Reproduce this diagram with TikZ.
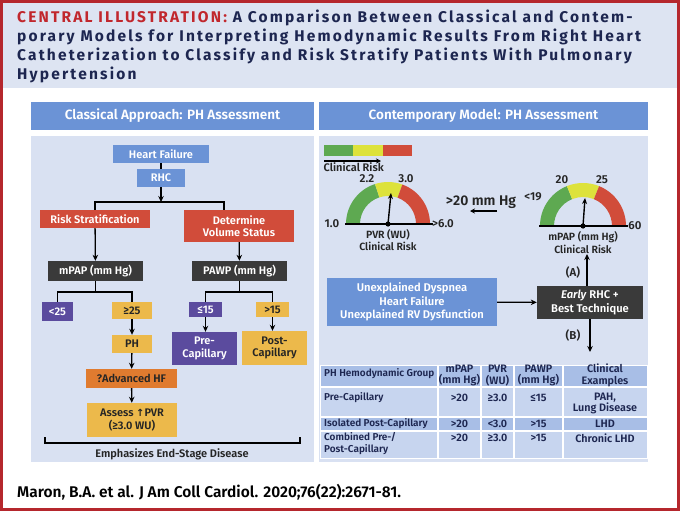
\documentclass[tikz,border=0pt]{standalone}
\usepackage{fontspec}
\setmainfont{Fira Sans}[BoldFont={Fira Sans SemiBold}]
\newfontfamily\titlefont{Fira Sans Bold}[LetterSpace=14]
\usetikzlibrary{arrows.meta}
\definecolor{frameRed}{HTML}{B5272D}
\definecolor{titleRed}{HTML}{C1272D}
\definecolor{navy}{HTML}{1D2650}
\definecolor{band}{HTML}{DDE4F2}
\definecolor{hdrBlue}{HTML}{6B93D6}
\definecolor{panel}{HTML}{D9E1F2}
\definecolor{riskRed}{HTML}{D14C3A}
\definecolor{darkBox}{HTML}{3A3A3A}
\definecolor{purp}{HTML}{5B4B9E}
\definecolor{yel}{HTML}{ECB94B}
\definecolor{orng}{HTML}{E07B2F}
\definecolor{gGreen}{HTML}{5EA951}
\definecolor{gYel}{HTML}{DDE23B}
\definecolor{gRed}{HTML}{D14C3A}
\definecolor{tHead}{HTML}{A8BEE6}
\definecolor{tLight}{HTML}{C7D5EF}
\definecolor{txt}{HTML}{252525}
\tikzset{
  fbox/.style={rectangle, inner sep=0pt, align=center, font=\bfseries\fontsize{11}{12.5}\selectfont},
  bluebox/.style={fbox, fill=hdrBlue, text=white},
  redbox/.style={fbox, fill=riskRed, text=white},
  darkbox/.style={fbox, fill=darkBox, text=white},
  purpbox/.style={fbox, fill=purp, text=white},
  yelbox/.style={fbox, fill=yel, text=txt},
  orngbox/.style={fbox, fill=orng, text=txt},
  ln/.style={line width=1.3pt, draw=black},
  arr/.style={ln, -{Stealth[length=6pt,width=5.5pt]}},
  titletxt/.style={anchor=base west, inner sep=0pt, text=navy, font=\titlefont\fontsize{15.5}{19}\selectfont},
  hdrtxt/.style={text=white, font=\bfseries\fontsize{13.5}{15}\selectfont},
  lbl/.style={inner sep=0pt, text=txt, font=\bfseries\fontsize{11.5}{13}\selectfont},
  slbl/.style={inner sep=0pt, text=txt, align=center, font=\bfseries\fontsize{10.5}{12.5}\selectfont},
  tcell/.style={inner sep=0pt, text=navy, align=center, font=\bfseries\fontsize{10.8}{11.5}\selectfont},
  tfirst/.style={tcell, anchor=west, align=left, font=\bfseries\fontsize{10}{11.5}\selectfont},
}
\begin{document}
\begin{tikzpicture}[x=1pt,y=-1pt]
\useasboundingbox (0,0) rectangle (680,511);
\fill[white] (0,0) rectangle (680,511);
% title band
\fill[band] (2,2) rectangle (678,87.5);
\node[titletxt] (t1) at (17,22.7) {\textcolor{titleRed}{CENTRAL ILLUSTRATION:} A Comparison Between Classical and Contem-};
\node[titletxt] (t2) at (17,41.6) {porary Models for Interpreting Hemodynamic Results From Right Heart};
\node[titletxt] (t3) at (17,60.5) {Catheterization to Classify and Risk Stratify Patients With Pulmonary};
\node[titletxt] (t4) at (17,79.4) {Hypertension};
% headers and panels
\fill[hdrBlue] (31,102) rectangle (314,130);
\fill[hdrBlue] (319,102) rectangle (648,130);
\node[hdrtxt] (h1) at (172.5,116) {Classical Approach: PH Assessment};
\node[hdrtxt] (h2) at (483.5,116) {Contemporary Model: PH Assessment};
\fill[panel] (31,136) rectangle (314,462);
\fill[panel] (319,136) rectangle (648,462);
% ---------- left panel ----------
\node[bluebox, minimum width=96pt, minimum height=18pt] (hf) at (161,154) {Heart Failure};
\node[bluebox, minimum width=48pt, minimum height=18pt] (rhc) at (161,178) {RHC};
\node[redbox, minimum width=110pt, minimum height=18pt] (risk) at (95,219) {Risk Stratification};
\node[redbox, minimum width=110pt, minimum height=32pt] (det) at (239,226) {Determine\\Volume Status};
\node[darkbox, minimum width=95pt, minimum height=20pt] (mpap) at (95.5,271) {mPAP (mm Hg)};
\node[darkbox, minimum width=95pt, minimum height=20pt] (pawp) at (239.5,271) {PAWP (mm Hg)};
\node[purpbox, minimum width=31pt, minimum height=19pt] (lt25) at (57.5,311.5) {<25};
\node[yelbox, minimum width=40pt, minimum height=17pt] (ge25) at (132,310.5) {≥25};
\node[purpbox, minimum width=33pt, minimum height=15pt] (le15) at (205.5,309.5) {≤15};
\node[yelbox, minimum width=33pt, minimum height=15pt] (gt15) at (272.5,309.5) {>15};
\node[yelbox, minimum width=40pt, minimum height=18pt] (ph) at (132,344) {PH};
\node[orngbox, minimum width=91pt, minimum height=19pt] (adv) at (131.5,378.5) {?Advanced HF};
\node[yelbox, minimum width=90pt, minimum height=34pt] (assess) at (132,420) {Assess \raisebox{0.5pt}{\fontspec{DejaVu Sans}[Scale=0.9]↑}PVR\\(≥3.0 WU)};
\node[purpbox, minimum width=65pt, minimum height=33pt] (pre) at (204.5,348.5) {Pre-\\Capillary};
\node[yelbox, minimum width=65pt, minimum height=34pt] (post) at (274.5,348) {Post-\\Capillary};
\coordinate (split) at (161,202);
\coordinate (sR) at (224,202);
\coordinate (m1) at (95.5,292);
\coordinate (p1) at (239.5,292);
\draw[ln] (hf) -- (rhc);
\draw[arr] (rhc) -- (split);
\draw[ln] (risk.north) |- (sR) -- (sR |- det.north);
\draw[arr] (risk) -- (mpap);
\draw[arr] (det) -- (pawp);
\draw[ln] (mpap) -- (m1);
\draw[ln] (lt25.north) |- (m1) -| (ge25.north);
\draw[ln] (pawp) -- (p1);
\draw[ln] (le15.north) |- (p1) -| (gt15.north);
\draw[arr] (ge25) -- (ph);
\draw[arr] (ph) -- (adv);
\draw[arr] (adv) -- (assess);
\draw[arr] (le15.south) -- (le15.south |- pre.north);
\draw[arr] (gt15.south) -- (gt15.south |- post.north);
\coordinate (bl) at (45,437);
\coordinate (br) at (300,437);
\draw[line width=1.2pt] (bl) -- ++(0,6) -| (br);
\node[lbl, font=\bfseries\fontsize{11}{13}\selectfont] (emph) at (172,454) {Emphasizes End-Stage Disease};
% ---------- right panel ----------
\fill[gGreen] (324,145) rectangle (353,156);
\fill[gYel] (353,145) rectangle (383,156);
\fill[gRed] (383,145) rectangle (412,156);
\coordinate (cr1) at (324,161);
\coordinate (cr2) at (381,161);
\draw[line width=1.2pt, -{Stealth[length=5pt,width=5pt]}] (cr1) -- (cr2);
\node[lbl, anchor=base west, text depth=0pt, font=\bfseries\fontsize{11}{13}\selectfont] (crisk) at (323.5,171) {Clinical Risk};
% gauge 1
\begin{scope}[shift={(388,224)}]
\fill[gGreen] (180:42) arc[start angle=180,end angle=252,radius=42] -- (252:28) arc[start angle=252,end angle=180,radius=28] -- cycle;
\fill[gYel] (252:42) arc[start angle=252,end angle=290,radius=42] -- (290:28) arc[start angle=290,end angle=252,radius=28] -- cycle;
\fill[gRed] (290:42) arc[start angle=290,end angle=360,radius=42] -- (360:28) arc[start angle=360,end angle=290,radius=28] -- cycle;
\coordinate (g1c) at (0,0);
\coordinate (g1t) at (3,-31);
\draw[line width=1.3pt] (-43,0) -- (45,0);
\draw[line width=1.4pt, -{Stealth[length=6pt,width=5pt]}] (g1c) -- (g1t);
\fill (g1c) circle (2.6);
\end{scope}
\node[lbl] (g1a) at (332,224) {1.0};
\node[lbl] (g1b) at (443,224) {>6.0};
\node[lbl, anchor=base] (g1d) at (367,182) {2.2};
\node[lbl, anchor=base] (g1e) at (406,182) {3.0};
\node[slbl] (g1f) at (388,240) {PVR (WU)\\Clinical Risk};
\node[lbl, font=\bfseries\fontsize{14}{16}\selectfont] (mm20) at (481,202) {>20 mm Hg};
\coordinate (ma1) at (497,211);
\coordinate (ma2) at (470,211);
\draw[line width=1.2pt, -{Stealth[length=5pt,width=5pt]}] (ma1) -- (ma2);
% gauge 2
\begin{scope}[shift={(583,226)}]
\fill[gGreen] (180:43) arc[start angle=180,end angle=248,radius=43] -- (248:29) arc[start angle=248,end angle=180,radius=29] -- cycle;
\fill[gYel] (248:43) arc[start angle=248,end angle=292,radius=43] -- (292:29) arc[start angle=292,end angle=248,radius=29] -- cycle;
\fill[gRed] (292:43) arc[start angle=292,end angle=360,radius=43] -- (360:29) arc[start angle=360,end angle=292,radius=29] -- cycle;
\coordinate (g2c) at (0,0);
\coordinate (g2t) at (2,-28);
\draw[line width=1.3pt] (-44,0) -- (45,0);
\draw[line width=1.4pt, -{Stealth[length=6pt,width=5pt]}] (g2c) -- (g2t);
\fill (g2c) circle (2.6);
\end{scope}
\node[lbl] (g2a) at (533,197) {<19};
\node[lbl] (g2b) at (635,226) {60};
\node[lbl] (g2d) at (562,180) {20};
\node[lbl] (g2e) at (602,180) {25};
\node[slbl] (g2f) at (583,242.5) {mPAP (mm Hg)\\Clinical Risk};
% flow
\node[bluebox, minimum width=170pt, minimum height=48pt, font=\bfseries\fontsize{11.2}{13.5}\selectfont] (unexp) at (412,302) {Unexplained Dyspnea\\Heart Failure\\Unexplained RV Dysfunction};
\node[darkbox, minimum width=106pt, minimum height=33pt, font=\bfseries\fontsize{11.2}{13.5}\selectfont] (early) at (590,302.5) {\textit{Early} RHC +\\Best Technique};
\draw[arr] (unexp) -- (early);
\coordinate (aTop) at (587,254);
\coordinate (bBot) at (590,352);
\draw[arr] (early.north -| aTop) -- (aTop);
\draw[arr] (early.south -| bBot) -- (bBot);
\node[lbl] (la) at (573,272) {(A)};
\node[lbl] (lb) at (573,335) {(B)};
% table
\fill[tHead] (320,365) rectangle (647,387);
\fill[tLight] (320,387) rectangle (647,417);
\fill[tHead] (320,417) rectangle (647,431);
\fill[tLight] (320,431) rectangle (647,458);
\draw[white, line width=1.2pt] (438,365) -- (438,458) (481,365) -- (481,458) (514,365) -- (514,458) (563,365) -- (563,458)
  (320,387) -- (647,387) (320,417) -- (647,417) (320,431) -- (647,431);
\draw[white, line width=0.8pt] (320,365) rectangle (647,458);
\node[tfirst] (c00) at (324,374) {PH Hemodynamic Group};
\node[tcell] (c01) at (459.5,375.5) {mPAP\\(mm Hg)};
\node[tcell] (c02) at (497.5,375.5) {PVR\\(WU)};
\node[tcell] (c03) at (538.5,375.5) {PAWP\\(mm Hg)};
\node[tcell] (c04) at (605,375.5) {Clinical\\Examples};
\node[tfirst] (c10) at (324,398) {Pre-Capillary};
\node[tcell] (c11) at (459.5,398) {>20};
\node[tcell] (c12) at (497.5,398) {≥3.0};
\node[tcell] (c13) at (538.5,398) {≤15};
\node[tcell] (c14) at (605,403.5) {PAH,\\Lung Disease};
\node[tfirst] (c20) at (324,424) {Isolated Post-Capillary};
\node[tcell] (c21) at (459.5,424) {>20};
\node[tcell] (c22) at (497.5,424) {<3.0};
\node[tcell] (c23) at (538.5,424) {>15};
\node[tcell] (c24) at (605,424) {LHD};
\node[tfirst] (c30) at (324,443.5) {Combined Pre-/\\Post-Capillary};
\node[tcell] (c31) at (459.5,438) {>20};
\node[tcell] (c32) at (497.5,438) {≥3.0};
\node[tcell] (c33) at (538.5,438) {>15};
\node[tcell] (c34) at (605,438) {Chronic LHD};
% citation
\node[inner sep=0pt, anchor=base west, text=black, font=\bfseries\fontsize{15.5}{17}\selectfont] (cite) at (17,497) {Maron, B.A. et al. J Am Coll Cardiol. 2020;76(22):2671-81.};
% frame
\draw[frameRed, line width=2.6pt] (1.3,1.3) rectangle (678.7,509.7);
\end{tikzpicture}
\end{document}
